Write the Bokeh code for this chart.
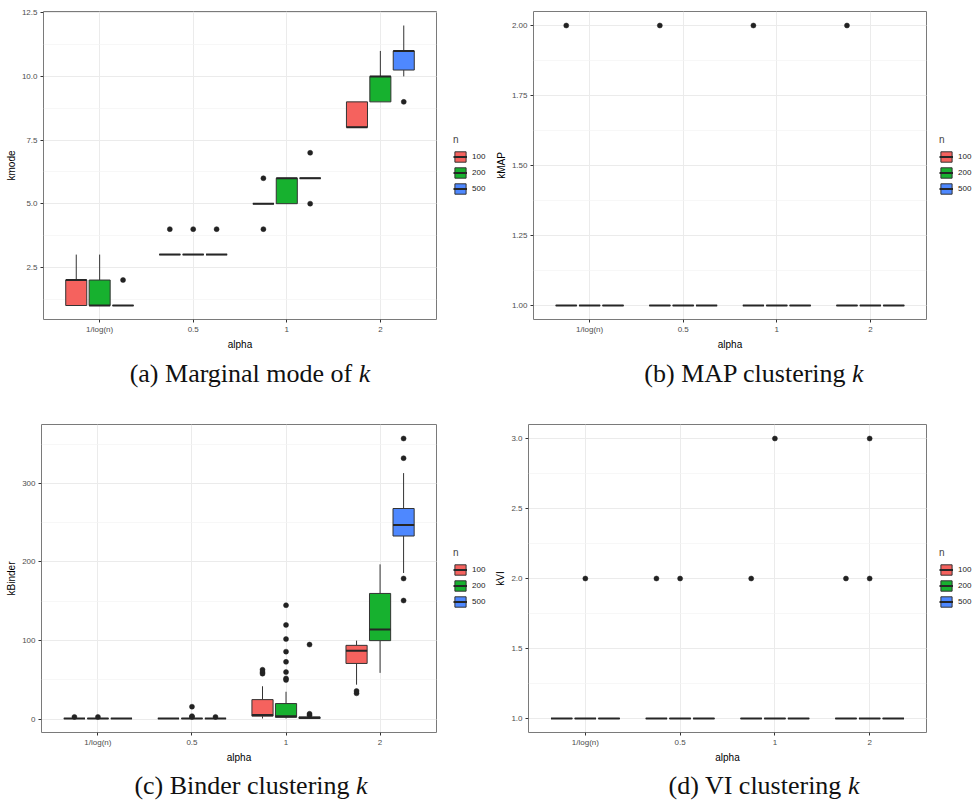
from bokeh.plotting import figure
from bokeh.models import (ColumnDataSource, Range1d, FixedTicker, SingleIntervalTicker,
                          PrintfTickFormatter, Legend, LegendItem, Div)
from bokeh.layouts import column, row
from bokeh.embed import file_html
from bokeh.resources import INLINE

# ---------------- data ----------------
ALPHA_LABELS = ["1/log(n)", "0.5", "1", "2"]
N_LABELS = ["100", "200", "500"]
N_COLORS = ["#F5625E", "#17B12F", "#4E88FF"]

# (a) kmode  - rows: n = 100, 200, 500 ; columns: alpha categories
kmode_lo  = [[1, 3, 5, 8], [1, 3, 5, 9], [1, 3, 6, 10]]
kmode_q1  = [[1, 3, 5, 8], [1, 3, 5, 9], [1, 3, 6, 10.25]]
kmode_med = [[2, 3, 5, 8], [1, 3, 6, 10], [1, 3, 6, 11]]
kmode_q3  = [[2, 3, 5, 9], [2, 3, 6, 10], [1, 3, 6, 11]]
kmode_hi  = [[3, 3, 5, 9], [3, 3, 6, 11], [1, 3, 6, 12]]
kmode_out_alpha = [1, 2, 2, 1, 0, 1, 2, 2, 3]
kmode_out_n     = [0, 0, 0, 1, 2, 2, 2, 2, 2]
kmode_out_val   = [4, 4, 6, 4, 2, 4, 5, 7, 9]

# (b) kMAP
kmap_lo  = [[1, 1, 1, 1], [1, 1, 1, 1], [1, 1, 1, 1]]
kmap_q1  = [[1, 1, 1, 1], [1, 1, 1, 1], [1, 1, 1, 1]]
kmap_med = [[1, 1, 1, 1], [1, 1, 1, 1], [1, 1, 1, 1]]
kmap_q3  = [[1, 1, 1, 1], [1, 1, 1, 1], [1, 1, 1, 1]]
kmap_hi  = [[1, 1, 1, 1], [1, 1, 1, 1], [1, 1, 1, 1]]
kmap_out_alpha = [0, 1, 2, 3]
kmap_out_n     = [0, 0, 0, 0]
kmap_out_val   = [2, 2, 2, 2]

# (c) kBinder
kbinder_lo  = [[1, 1, 1, 44], [1, 1, 1, 59], [1, 1, 1, 186]]
kbinder_q1  = [[1, 1, 4, 71], [1, 1, 2.5, 100], [1, 1, 1, 233]]
kbinder_med = [[1, 1, 5.5, 87], [1, 1, 4, 114], [1, 1, 2, 247]]
kbinder_q3  = [[1, 1, 25, 94], [1, 1, 20, 160], [1, 1, 3, 268]]
kbinder_hi  = [[1, 1, 42, 100], [1, 1, 35, 197], [1, 1, 4, 313]]
kbinder_out_alpha = [0, 2, 2, 2, 3, 3,
                     0, 1, 1, 1, 2, 2, 2, 2, 2, 2, 2, 2,
                     1, 2, 2, 2, 3, 3, 3, 3]
kbinder_out_n     = [0, 0, 0, 0, 0, 0,
                     1, 1, 1, 1, 1, 1, 1, 1, 1, 1, 1, 1,
                     2, 2, 2, 2, 2, 2, 2, 2]
kbinder_out_val   = [3, 58, 60, 63, 33, 36,
                     3, 3, 4, 16, 50, 52, 60, 73, 86, 102, 120, 145,
                     3, 5, 7, 95, 151, 179, 332, 357]

# (d) kVI
kvi_lo  = [[1, 1, 1, 1], [1, 1, 1, 1], [1, 1, 1, 1]]
kvi_q1  = [[1, 1, 1, 1], [1, 1, 1, 1], [1, 1, 1, 1]]
kvi_med = [[1, 1, 1, 1], [1, 1, 1, 1], [1, 1, 1, 1]]
kvi_q3  = [[1, 1, 1, 1], [1, 1, 1, 1], [1, 1, 1, 1]]
kvi_hi  = [[1, 1, 1, 1], [1, 1, 1, 1], [1, 1, 1, 1]]
kvi_out_alpha = [0, 1, 1, 2, 2, 3, 3, 3]
kvi_out_n     = [1, 0, 1, 0, 1, 0, 1, 1]
kvi_out_val   = [2, 2, 2, 2, 3, 2, 2, 3]

# ---------------- styling ----------------
SANS = "Liberation Sans"
DODGE = 0.25
BOXW = 0.225
DARK = "#333333"
MEDC = "#262626"
FIG_H = 352


def make_panel(ylabel, lo, q1, med, q3, hi, oa, on, ov, interval, fmt,
               width, left):
    allv = [v for r in lo for v in r] + [v for r in hi for v in r] + list(ov)
    vmin, vmax = min(allv), max(allv)
    pad = 0.05 * (vmax - vmin)
    p = figure(width=width, height=FIG_H, output_backend="svg", toolbar_location=None,
               x_range=Range1d(0.4, 4.6), y_range=Range1d(vmin - pad, vmax + pad),
               min_border_left=left, min_border_right=1,
               min_border_top=11, min_border_bottom=31)
    p.background_fill_color = "white"
    p.border_fill_color = "white"
    p.outline_line_color = "#7A7A7A"
    p.outline_line_width = 1

    xt = FixedTicker(ticks=[1, 2, 3, 4])
    p.xaxis.ticker = xt
    p.xaxis.major_label_overrides = {i + 1: lab for i, lab in enumerate(ALPHA_LABELS)}
    p.xgrid.ticker = xt
    yt = SingleIntervalTicker(interval=interval, num_minor_ticks=2)
    p.yaxis.ticker = yt
    p.ygrid.ticker = yt
    p.yaxis.formatter = PrintfTickFormatter(format=fmt)

    for g in (p.xgrid, p.ygrid):
        g.grid_line_color = "#EBEBEB"
        g.grid_line_width = 1
    p.ygrid.minor_grid_line_color = "#F3F3F3"
    p.ygrid.minor_grid_line_width = 0.7

    for ax in (p.xaxis, p.yaxis):
        ax.axis_line_color = None
        ax.major_tick_line_color = DARK
        ax.major_tick_in = 0
        ax.major_tick_out = 3
        ax.minor_tick_line_color = None
        ax.major_label_text_font = SANS
        ax.major_label_text_font_size = "8px"
        ax.major_label_text_color = "#4D4D4D"
        ax.major_label_standoff = 2
        ax.axis_label_text_font = SANS
        ax.axis_label_text_font_size = "10px"
        ax.axis_label_text_font_style = "normal"
        ax.axis_label_text_color = "black"
        ax.axis_label_standoff = 2
    p.xaxis.axis_label = "alpha"
    p.yaxis.axis_label = ylabel

    srcs = []
    for gi in range(3):
        xs = [a + 1 + (gi - 1) * DODGE for a in range(4)]
        src = ColumnDataSource(dict(
            x=xs, xl=[x - BOXW / 2 for x in xs], xr=[x + BOXW / 2 for x in xs],
            lo=lo[gi], q1=q1[gi], med=med[gi], q3=q3[gi], hi=hi[gi]))
        srcs.append(src)
        p.segment(x0="x", y0="q3", x1="x", y1="hi", source=src,
                  line_color=DARK, line_width=1)
        p.segment(x0="x", y0="lo", x1="x", y1="q1", source=src,
                  line_color=DARK, line_width=1)
        p.vbar(x="x", width=BOXW, bottom="q1", top="q3", source=src,
               fill_color=N_COLORS[gi], line_color=DARK, line_width=1)
        p.segment(x0="xl", y0="med", x1="xr", y1="med", source=src,
                  line_color=MEDC, line_width=2)

    ox = [a + 1 + (n - 1) * DODGE for a, n in zip(oa, on)]
    p.scatter(x=ox, y=ov, size=5, fill_color="#222222", line_color="#222222",
              line_width=0.5)
    return p, srcs


def make_legend(srcs, width, xoff):
    # a narrow companion figure that only carries the "n" legend;
    # its ranges lie away from the data, so only the legend keys show
    lf = figure(width=width, height=FIG_H, output_backend="svg", toolbar_location=None,
                x_axis_type=None, y_axis_type=None,
                x_range=Range1d(-3, -2), y_range=Range1d(-3, -2),
                min_border_left=0, min_border_right=0,
                min_border_top=11, min_border_bottom=31)
    lf.outline_line_color = None
    lf.background_fill_color = "white"
    lf.border_fill_color = "white"
    items = []
    for gi, src in enumerate(srcs):
        box = lf.vbar(x="x", width=BOXW, bottom="q1", top="q3", source=src,
                      fill_color=N_COLORS[gi], line_color=DARK, line_width=1)
        medr = lf.segment(x0="xl", y0="med", x1="xr", y1="med", source=src,
                          line_color=MEDC, line_width=2)
        items.append(LegendItem(label=N_LABELS[gi], renderers=[box, medr], index=0))
    leg = Legend(items=items, location=(xoff, 124), title="n",
                 padding=0, margin=0, spacing=3,
                 glyph_width=14, glyph_height=13, label_height=13,
                 label_width=14, label_standoff=5,
                 label_text_font=SANS, label_text_font_size="8px",
                 label_text_color="#1A1A1A",
                 title_text_font=SANS, title_text_font_size="10px",
                 title_text_font_style="normal", title_standoff=5,
                 border_line_color=None, background_fill_alpha=0)
    lf.add_layout(leg)
    return lf


def caption(label, body, height, top, shift):
    html = ('<div style="position:relative; top:%dpx; left:%dpx; width:486px; '
            'text-align:center; font-family:\'Liberation Serif\'; font-size:26px; '
            'line-height:26px; color:#111;">%s <i>k</i></div>') % (top, shift, label + " " + body)
    return Div(text=html, width=486, height=height, margin=0)


pa, sa = make_panel("kmode", kmode_lo, kmode_q1, kmode_med, kmode_q3, kmode_hi,
                    kmode_out_alpha, kmode_out_n, kmode_out_val, 2.5, "%.1f", 437, 43)
pb, sb = make_panel("kMAP", kmap_lo, kmap_q1, kmap_med, kmap_q3, kmap_hi,
                    kmap_out_alpha, kmap_out_n, kmap_out_val, 0.25, "%.2f", 441, 47)
pc, sc = make_panel("kBinder", kbinder_lo, kbinder_q1, kbinder_med, kbinder_q3, kbinder_hi,
                    kbinder_out_alpha, kbinder_out_n, kbinder_out_val, 100, "%d", 437, 41)
pd, sd = make_panel("kVI", kvi_lo, kvi_q1, kvi_med, kvi_q3, kvi_hi,
                    kvi_out_alpha, kvi_out_n, kvi_out_val, 0.5, "%.1f", 441, 42)

la = make_legend(sa, 49, 16)
lb = make_legend(sb, 45, 12)
lc = make_legend(sc, 49, 16)
ld = make_legend(sd, 45, 12)

ca = caption("(a)", "Marginal mode of", 61, 9, 7)
cb = caption("(b)", "MAP clustering", 61, 9, 25)
cc = caption("(c)", "Binder clustering", 38, 8, 8)
cd = caption("(d)", "VI clustering", 38, 8, 35)

layout = column(row(pa, la, pb, lb, spacing=0), row(ca, cb, spacing=0),
                row(pc, lc, pd, ld, spacing=0), row(cc, cd, spacing=0), spacing=0)

open("out.html", "w").write(file_html(layout, INLINE))
